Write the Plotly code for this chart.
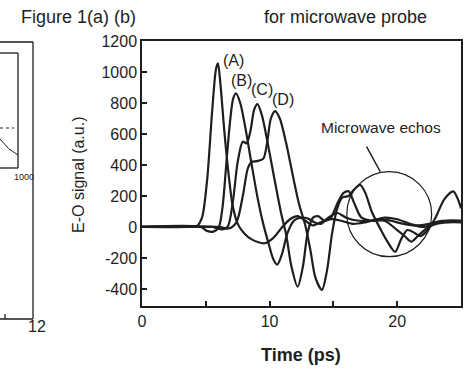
import plotly.graph_objects as go

# ---------------- data ----------------
t_A = [0, 3.5, 4.3, 4.7, 5.1, 5.5, 5.8, 5.95, 6.15, 6.45, 6.8, 7.1, 7.5, 8.0, 8.6, 9.6, 10.3, 11.0, 11.6, 12.2, 12.8, 13.4, 14.0, 14.8, 15.6, 16.5, 17.5, 18.5, 19.5, 20.5, 21.5, 22.5, 23.5, 25]
y_A = [0, 0, 5, 60, 300, 750, 1020, 1056, 920, 620, 330, 140, 20, -40, -80, -105, -70, 0, 50, 70, 40, 10, 30, 50, 40, 20, 30, 50, 40, 20, 10, 20, 40, 40]

t_B = [0, 4.6, 5.1, 5.6, 6.0, 6.3, 6.6, 6.9, 7.15, 7.37, 7.7, 8.1, 8.6, 9.1, 9.5, 9.9, 10.3, 10.6, 10.95, 11.4, 11.9, 12.4, 13.0, 13.5, 14.0, 14.6, 15.3, 16.0, 17.0, 18.0, 19.0, 20.0, 21.0, 22.0, 23.0, 24.0, 25]
y_B = [0, 0, -25, -30, -5, 120, 400, 680, 830, 862, 800, 640, 400, 170, 20, -100, -210, -243, -180, -40, 40, 60, 55, 30, 20, 60, 90, 60, 40, 40, 60, 50, 20, 0, 20, 40, 40]

t_C = [0, 5.5, 6.2, 6.7, 7.1, 7.5, 7.9, 8.2, 8.5, 8.8, 9.05, 9.4, 9.9, 10.4, 10.9, 11.3, 11.7, 12.2, 12.6, 13.0, 13.4, 13.8, 14.3, 14.8, 15.3, 15.8, 16.2, 16.6, 17.2, 18.0, 19.0, 20.0, 20.6, 21.1, 21.6, 22.3, 23.0, 24.0, 25]
y_C = [0, 0, -15, 0, 150, 420, 550, 540, 620, 760, 793, 720, 520, 300, 90, -50, -250, -385, -260, -30, 60, 70, 40, 60, 150, 220, 230, 160, 60, 40, 40, -20, -60, -95, -60, -10, 20, 30, 30]

t_D = [0, 6.0, 6.8, 7.4, 7.9, 8.3, 8.6, 9.0, 9.5, 9.8, 10.1, 10.43, 10.8, 11.3, 11.8, 12.3, 12.8, 13.2, 13.6, 14.1, 14.5, 14.9, 15.3, 15.7, 16.2, 16.6, 17.1, 17.5, 18.0, 18.6, 19.2, 19.84, 20.3, 20.8, 21.4, 21.8, 22.4, 23.0, 23.7, 24.4, 24.8, 25]
y_D = [0, 0, -10, 30, 200, 380, 420, 425, 440, 540, 700, 748, 700, 540, 340, 150, 10, -150, -330, -406, -280, -40, 120, 190, 200, 240, 271, 220, 100, 0, -90, -160, -80, -20, -40, -60, -20, 60, 180, 230, 170, 120]

curve_labels = ["(A)", "(B)", "(C)", "(D)"]
label_t = [7.2, 7.76, 9.4, 11.06]
label_y = [1075, 945, 890, 825]

x_tickvals = [0, 5, 10, 15, 20]
x_ticktext = ["0", "", "10", "", "20"]
y_tickvals = [-400, -200, 0, 200, 400, 600, 800, 1000, 1200]
y_ticktext = ["-400", "-200", "0", "200", "400", "600", "800", "1000", "1200"]

# ---------------- figure ----------------
FONT = "Liberation Sans, Arial, sans-serif"
INK = "#1e1e1e"

W, H = 464, 373
L, R, T, B = 142, 3, 41, 67
PW, PH = W - L - R, H - T - B


def px(x):
    return (x - L) / PW


def py(y):
    return (H - B - y) / PH


fig = go.Figure()
for tt, yy in [(t_A, y_A), (t_B, y_B), (t_C, y_C), (t_D, y_D)]:
    fig.add_trace(go.Scatter(x=tt, y=yy, mode="lines",
                             line=dict(color=INK, width=2.2, shape="spline", smoothing=0.8),
                             showlegend=False, hoverinfo="skip"))


def txt(x, y, s, size, ref="paper", angle=0):
    return dict(x=x, y=y, xref="x" if ref == "data" else "paper",
                yref="y" if ref == "data" else "paper", text=s, showarrow=False,
                xanchor="center", yanchor="middle", textangle=angle,
                font=dict(family=FONT, size=size, color=INK))


ann = []
for lab, lt, ly in zip(curve_labels, label_t, label_y):
    ann.append(txt(lt, ly, lab, 16, ref="data"))

ann.append(txt(18.7, 640, "Microwave echos", 15.5, ref="data"))
ann.append(txt(px(78), py(175), "E-O signal (a.u.)", 16, angle=-90))
ann.append(txt(px(301), py(355), "<b>Time (ps)</b>", 18))
ann.append(txt(px(78), py(17), "Figure 1(a) (b)", 18))
ann.append(txt(px(345), py(17), "for microwave probe", 18))
# fragment of the neighbouring panel
ann.append(txt(px(37), py(326), "12", 16))
ann.append(txt(px(24), py(177), "1000", 9))

shapes = []
# circle around the echoes and pointer line
shapes.append(dict(type="circle", xref="x", yref="y", x0=16.05, x1=22.7, y0=-192, y1=357,
                   line=dict(color=INK, width=1.2)))
shapes.append(dict(type="line", xref="x", yref="y", x0=17.6, y0=518, x1=18.67, y1=357,
                   line=dict(color=INK, width=1.4)))
# neighbouring panel frame
seg = [((0, 42), (33, 42)), ((33, 42), (33, 319)), ((0, 319), (33, 319)),
       ((5, 319), (5, 314)),
       ((0, 53), (18, 53)), ((18, 53), (18, 168)), ((0, 168), (18, 168))]
for (a, b) in seg:
    shapes.append(dict(type="line", xref="paper", yref="paper",
                       x0=px(a[0]), y0=py(a[1]), x1=px(b[0]), y1=py(b[1]),
                       line=dict(color=INK, width=1.3)))
shapes.append(dict(type="line", xref="paper", yref="paper",
                   x0=px(0), y0=py(128), x1=px(14), y1=py(128),
                   line=dict(color=INK, width=1.2, dash="dot")))
shapes.append(dict(type="path", xref="paper", yref="paper",
                   path=f"M {px(0)} {py(139)} Q {px(8)} {py(150)} {px(18)} {py(155)}",
                   line=dict(color=INK, width=1.0)))

axis_common = dict(showline=True, linecolor=INK, linewidth=1.5, mirror=True,
                   ticks="inside", ticklen=5, tickcolor=INK, tickwidth=1.5,
                   showgrid=False, zeroline=False, automargin=False,
                   tickfont=dict(family=FONT, size=16, color=INK))

fig.update_layout(
    width=W, height=H,
    margin=dict(l=L, r=R, t=T, b=B, pad=0),
    paper_bgcolor="white", plot_bgcolor="white",
    xaxis=dict(range=[0, 25], tickvals=x_tickvals, ticktext=x_ticktext, **axis_common),
    yaxis=dict(range=[-510, 1200], tickvals=y_tickvals, ticktext=y_ticktext, **axis_common),
    annotations=ann, shapes=shapes,
)

fig.write_html("out.html", config={"displayModeBar": False},
               post_script="document.body.style.margin='0px';document.body.style.padding='0px';")
